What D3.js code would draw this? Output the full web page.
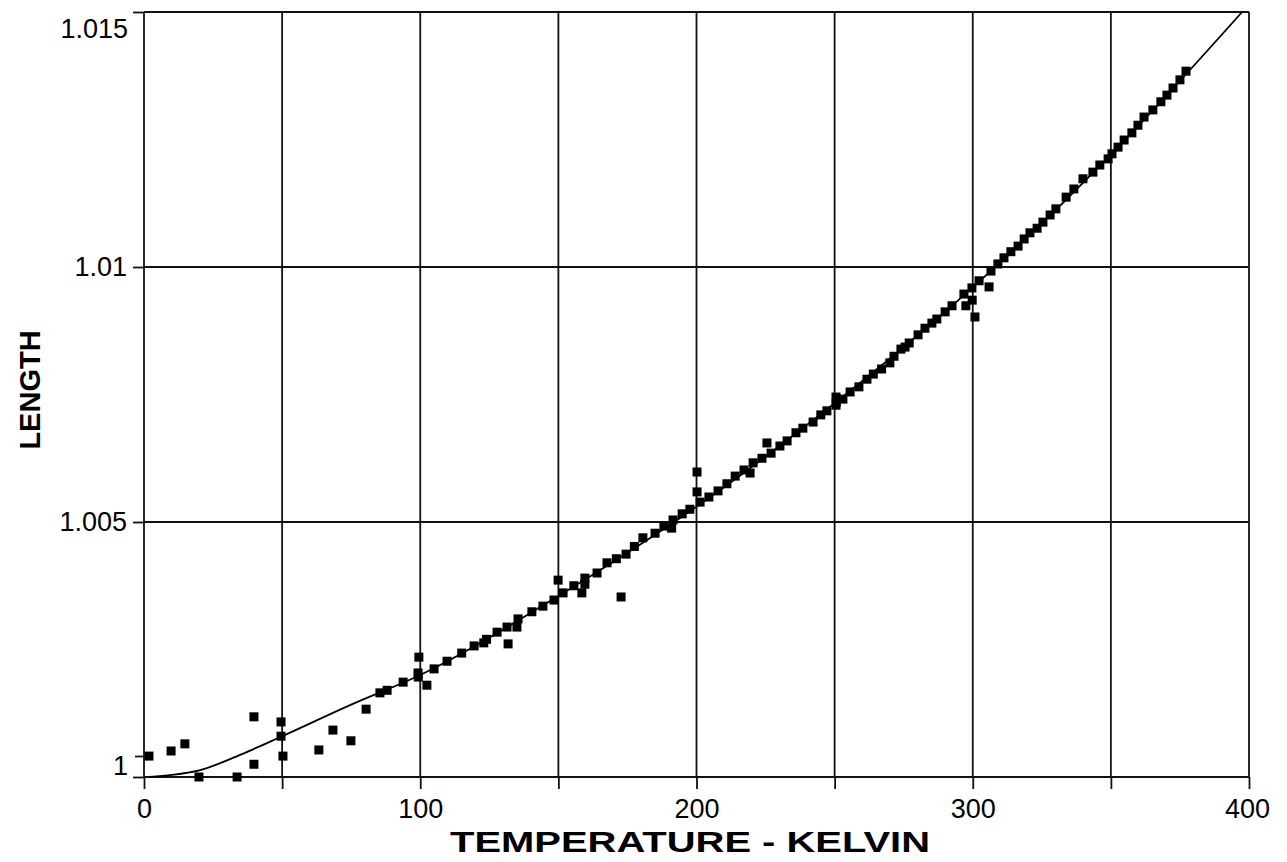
<!DOCTYPE html>
<html>
<head>
<meta charset="utf-8">
<script src="https://cdn.jsdelivr.net/npm/d3@7"></script>
<style>
  html, body { margin: 0; padding: 0; background: #fff; }
  svg { display: block; font-family: "Liberation Sans", Arial, sans-serif; }
</style>
</head>
<body>
<svg id="chart" width="1287" height="862"></svg>
<script>
// ---- data ----
const temperature = [
  1.8, 9.8, 14.8, 19.9, 33.7, 39.8, 39.8, 49.6, 49.6, 50.3,
  63.3, 68.4, 74.9, 80.4, 85.4, 88, 93.8, 99.2, 99.3, 99.5,
  102.4, 105, 109.7, 115, 119.5, 123, 124, 127.8, 131.4, 131.8,
  135, 135.4, 140.4, 144.4, 148.4, 149.9, 151.7, 155.6, 158.5, 159.6,
  159.6, 164, 167.6, 171, 172.7, 174.5, 177.5, 180.6, 185, 188.2,
  191, 191.5, 194.8, 197.6, 200.2, 200.2, 201.3, 204.5, 207.8, 211,
  214, 217.2, 219.4, 220.5, 223.7, 225.5, 227, 230.2, 232.8, 236,
  238.5, 242.2, 245, 247.2, 250.5, 250.5, 250.6, 253, 255.6, 258.8,
  261.7, 264, 267, 270, 271.5, 274, 275.5, 277, 280.2, 282.7,
  285.2, 287, 290, 292.5, 296.8, 297.5, 299.7, 299.8, 300.8, 302.3,
  305.9, 306.6, 309.1, 311.3, 313.8, 316.4, 318.6, 320.7, 323.3, 325.4,
  328, 330.1, 333.8, 336.6, 339.9, 343.5, 346, 349, 350.4, 352.6,
  354.8, 357.6, 359.8, 362, 365.2, 368.1, 370.3, 372.5, 375, 377.2
];
const lengthValues = [
  1.00041, 1.00051, 1.00065, 1.0, 1.0, 1.00118, 1.00025, 1.00108, 1.0008, 1.00041,
  1.00053, 1.00092, 1.00071, 1.00133, 1.00165, 1.0017, 1.00186, 1.00204, 1.00196, 1.00235,
  1.0018, 1.00212, 1.00227, 1.00243, 1.00257, 1.00263, 1.0027, 1.00284, 1.00294, 1.00261,
  1.00294, 1.0031, 1.00324, 1.00335, 1.00347, 1.00386, 1.00361, 1.00375, 1.00361, 1.00378,
  1.0039, 1.004, 1.0042, 1.00428, 1.00353, 1.00437, 1.00452, 1.00469, 1.00478, 1.00492,
  1.00488, 1.00504, 1.00516, 1.00525, 1.00598, 1.00559, 1.00539, 1.00549, 1.00561, 1.00575,
  1.0059, 1.00602, 1.00596, 1.00616, 1.00625, 1.00655, 1.00635, 1.00649, 1.00659, 1.00675,
  1.00684, 1.00696, 1.0071, 1.00718, 1.00745, 1.00729, 1.00735, 1.00741, 1.00755, 1.00765,
  1.0078, 1.0079, 1.008, 1.00812, 1.00825, 1.00839, 1.00843, 1.00851, 1.00867, 1.0088,
  1.0089, 1.00898, 1.00912, 1.00924, 1.00947, 1.00924, 1.00959, 1.00935, 1.00902, 1.00973,
  1.00961, 1.00992, 1.01006, 1.01018, 1.0103, 1.01041, 1.01055, 1.01067, 1.01076, 1.01088,
  1.01102, 1.01114, 1.01137, 1.01153, 1.01173, 1.01186, 1.012, 1.01212, 1.01222, 1.01235,
  1.01249, 1.01263, 1.01278, 1.01294, 1.01308, 1.01324, 1.01337, 1.01351, 1.01367, 1.01384
];
// fitted curve
const fitTemperature = [2, 10, 20, 35, 50, 75, 100, 150, 200, 250, 300, 350, 397.5];
const fitLength = [1.0, 1.00004, 1.00013, 1.00044, 1.0008, 1.00142, 1.002, 1.00355, 1.0053, 1.00733, 1.0096, 1.0122, 1.015];

const xTickValues = [0, 100, 200, 300, 400];
const xGridValues = [0, 50, 100, 150, 200, 250, 300, 350, 400];
const yTickValues = [1.0, 1.005, 1.01, 1.015];
const yTickLabels = ["1", "1.005", "1.01", "1.015"];
const xTitle = "TEMPERATURE - KELVIN";
const yTitle = "LENGTH";

// ---- layout ----
const svg = d3.select("#chart");
const pLeft = 144, pRight = 1249, pTop = 12, pBottom = 777;
const x = d3.scaleLinear().domain([0, 400]).range([pLeft, pRight]);
const y = d3.scaleLinear().domain([1.0, 1.015]).range([pBottom, pTop]);
const ink = "#111";

// grid
const grid = svg.append("g").attr("stroke", ink).attr("stroke-width", 1.8);
grid.selectAll("line.v").data(xGridValues).join("line").attr("class", "v")
  .attr("x1", d => x(d)).attr("x2", d => x(d))
  .attr("y1", pTop).attr("y2", pBottom);
grid.selectAll("line.h").data(yTickValues).join("line").attr("class", "h")
  .attr("x1", pLeft).attr("x2", pRight)
  .attr("y1", d => y(d)).attr("y2", d => y(d));

// x axis
const xAxis = d3.axisBottom(x).tickValues(xGridValues)
  .tickSize(12).tickPadding(10)
  .tickFormat(d => xTickValues.includes(d) ? d3.format("d")(d) : "");
const gx = svg.append("g").attr("transform", `translate(0,${pBottom})`).call(xAxis);
gx.select(".domain").remove();
gx.selectAll(".tick line").attr("stroke", ink).attr("stroke-width", 1.8);
gx.selectAll(".tick text").attr("fill", "#000").attr("font-size", 27)
  .attr("font-family", "Liberation Sans, Arial, sans-serif");
gx.selectAll(".tick text").filter(d => d === 400).attr("dx", -2);

// y axis
const yAxis = d3.axisLeft(y).tickValues(yTickValues)
  .tickSize(11).tickPadding(6)
  .tickFormat((d, i) => yTickLabels[i]);
const gy = svg.append("g").attr("transform", `translate(${pLeft},0)`).call(yAxis);
gy.select(".domain").remove();
gy.selectAll(".tick line").attr("stroke", ink).attr("stroke-width", 1.8);
gy.selectAll(".tick text").attr("fill", "#000").attr("font-size", 27)
  .attr("font-family", "Liberation Sans, Arial, sans-serif");
// end labels are nudged inward so they stay beside the frame
gy.selectAll(".tick text").filter(d => d === 1.015).attr("dy", "0.95em").attr("x", -16);
gy.selectAll(".tick text").filter(d => d === 1.0).attr("dy", "-0.1em").attr("x", -16);
gy.selectAll(".tick").filter(d => d === 1.0).append("line")
  .attr("x1", -9).attr("x2", 0).attr("y1", -21).attr("y2", -21)
  .attr("stroke", ink).attr("stroke-width", 1.8);

// axis titles
svg.append("text").attr("x", 690).attr("y", 852)
  .attr("text-anchor", "middle").attr("font-weight", "bold").attr("font-size", 30)
  .attr("textLength", 480).attr("lengthAdjust", "spacingAndGlyphs")
  .text(xTitle);
svg.append("text").attr("transform", `translate(40,390) rotate(-90)`)
  .attr("text-anchor", "middle").attr("font-weight", "bold").attr("font-size", 29)
  .text(yTitle);

// fitted curve
const fitData = fitTemperature.map((t, i) => [t, fitLength[i]]);
svg.append("path").datum(fitData)
  .attr("fill", "none").attr("stroke", "#000").attr("stroke-width", 1.8)
  .attr("d", d3.line().x(d => x(d[0])).y(d => y(d[1])).curve(d3.curveMonotoneX));

// data points
const pts = temperature.map((t, i) => [t, lengthValues[i]]);
const s = 9;
svg.append("g").selectAll("rect").data(pts).join("rect")
  .attr("x", d => x(d[0]) - s / 2).attr("y", d => y(d[1]) - s / 2)
  .attr("width", s).attr("height", s).attr("fill", "#000");
</script>
</body>
</html>
